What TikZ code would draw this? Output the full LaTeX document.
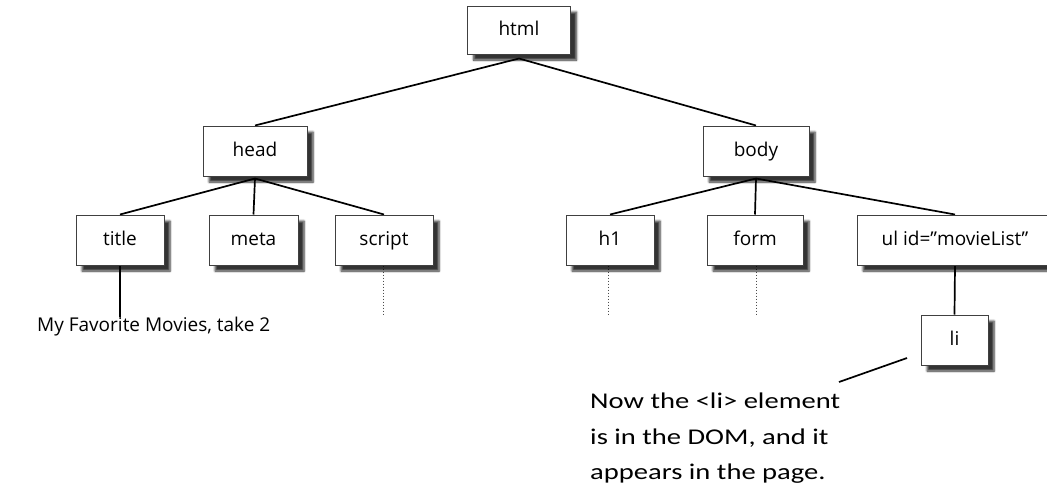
\documentclass[tikz,border=0pt]{standalone}
\usepackage{fontspec}
\setmainfont{Open Sans}
\newfontfamily\handfont[FakeStretch=1.27]{Carlito}
\usetikzlibrary{shadows.blur,backgrounds}
\begin{document}
\begin{tikzpicture}[x=1pt,y=-1pt,
  box/.style={draw=black!75, line width=1pt, fill=white, minimum height=50pt, inner sep=0pt,
    font=\fontsize{19}{22}\selectfont, text height=14pt, text depth=4pt,
    blur shadow={shadow xshift=6pt, shadow yshift=-6pt, shadow blur steps=6, shadow opacity=80}},
  edge/.style={line width=1.7pt, black},
  dots/.style={line width=1pt, dotted, black!70},
  lbl/.style={font=\fontsize{19}{22}\selectfont, inner sep=0pt},
  hand/.style={font=\handfont\fontsize{22.5}{35.5}\selectfont, inner sep=0pt, align=left},
]
\useasboundingbox (0,0) rectangle (1047,488);
\clip (0,0) rectangle (1047,488);

\node[box, minimum width=103pt, minimum height=48pt] (html) at (519,30) {html};
\node[box, minimum width=104pt] (head) at (255,151) {head};
\node[box, minimum width=106pt] (body) at (756,151) {body};
\node[box, minimum width=88pt] (title) at (120,240) {title};
\node[box, minimum width=89pt] (meta) at (253.5,240) {meta};
\node[box, minimum width=98pt] (script) at (384,240) {script};
\node[box, minimum width=88pt] (h1) at (610,240) {h1};
\node[box, minimum width=96pt] (form) at (755,240) {form};
\node[box, minimum width=196pt] (ul) at (955,240) {ul id=”movieList”};
\node[box, minimum width=67pt] (li) at (954.5,340) {li};

\node[lbl, anchor=north west] (fav) at (37,317) {My Favorite Movies, take 2};
\node[hand, anchor=north west] (note) at (590,393) {Now the <li> element\\is in the DOM, and it\\appears in the page.};

\coordinate (sd) at (383,315);
\coordinate (hd) at (608,315);
\coordinate (fd) at (756,315);
\coordinate (n1) at (907,358);
\coordinate (n2) at (839,382);

\begin{pgfonlayer}{background}
\draw[edge] ([yshift=-4pt]html.south) -- (head.north);
\draw[edge] ([yshift=-4pt]html.south) -- (body.north);
\draw[edge] ([yshift=-2pt]head.south) -- (title.north);
\draw[edge] ([yshift=-2pt]head.south) -- (meta.north);
\draw[edge] ([yshift=-2pt]head.south) -- (script.north);
\draw[edge] ([yshift=-2pt]body.south) -- (h1.north);
\draw[edge] ([yshift=-2pt]body.south) -- (form.north);
\draw[edge] ([yshift=-2pt]body.south) -- (ul.north);
\draw[edge] (ul.south) -- (li.north);
\draw[edge] (title.south) -- (title.south |- fav.north);
\draw[dots] (script.south -| sd) -- (sd);
\draw[dots] (h1.south -| hd) -- (hd);
\draw[dots] (form.south -| fd) -- (fd);
\draw[edge] (n1) -- (n2);
\end{pgfonlayer}
\end{tikzpicture}
\end{document}
